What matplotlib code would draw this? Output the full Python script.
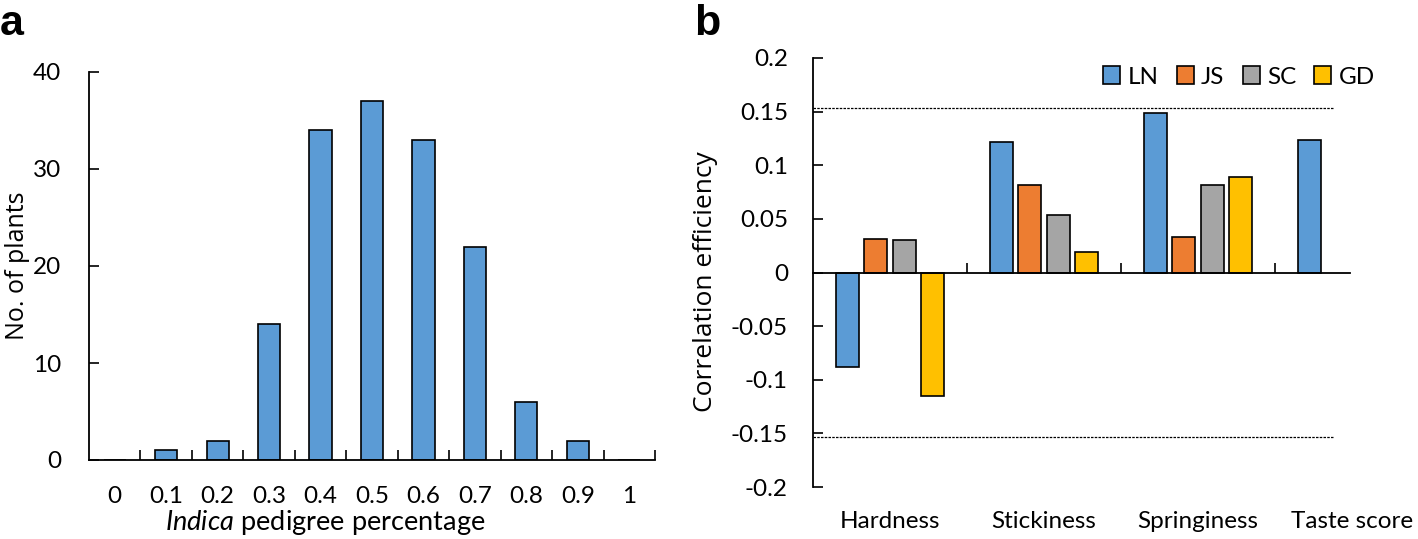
import matplotlib
matplotlib.use('Agg')
import matplotlib.pyplot as plt
from matplotlib.patches import Patch
import numpy as np

plt.rcParams['font.family'] = ['Lato', 'DejaVu Sans']
plt.rcParams['mathtext.fontset'] = 'custom'
plt.rcParams['mathtext.it'] = 'Lato:italic'
plt.rcParams['mathtext.rm'] = 'Lato'

# panel a data
pedigree = ['0', '0.1', '0.2', '0.3', '0.4', '0.5', '0.6', '0.7', '0.8', '0.9', '1']
n_plants = [0, 1, 2, 14, 34, 37, 33, 22, 6, 2, 0]

# panel b data
traits = ['Hardness', 'Stickiness', 'Springiness', 'Taste score']
regions = ['LN', 'JS', 'SC', 'GD']
corr_LN = [-0.088, 0.122, 0.149, 0.124]
corr_JS = [0.031, 0.082, 0.033, np.nan]
corr_SC = [0.030, 0.054, 0.082, np.nan]
corr_GD = [-0.115, 0.019, 0.089, np.nan]
sig_threshold = 0.153
b_yticks = [0.2, 0.15, 0.1, 0.05, 0, -0.05, -0.1, -0.15, -0.2]
b_yticklabels = ['0.2', '0.15', '0.1', '0.05', '0', '-0.05', '-0.1', '-0.15', '-0.2']

colors = ['#5B9BD5', '#ED7D31', '#A5A5A5', '#FFC000']

W, H = 1418, 539
fig = plt.figure(figsize=(W / 100, H / 100), dpi=100)

fs = 17.5

# ---- panel a
axa = fig.add_axes([89 / W, 1 - 460 / H, 566 / W, 388 / H])
xa = np.arange(len(pedigree))
axa.bar(xa, n_plants, width=0.43, color=colors[0], edgecolor='black', linewidth=1.2)
axa.set_xlim(-0.5, len(pedigree) - 0.5)
axa.set_ylim(0, 40)
axa.set_yticks([0, 10, 20, 30, 40])
axa.set_xticks(xa)
axa.set_xticklabels(pedigree)
axa.set_xticks(np.arange(0.5, len(pedigree), 1), minor=True)
axa.tick_params(axis='x', which='major', length=0, pad=18.5, labelsize=fs)
axa.tick_params(axis='x', which='minor', direction='in', length=7, width=1.2)
axa.tick_params(axis='y', direction='in', length=7, width=1.2, pad=20, labelsize=fs)
for s in ['top', 'right']:
    axa.spines[s].set_visible(False)
for s in ['left', 'bottom']:
    axa.spines[s].set_linewidth(1.3)
axa.set_ylabel('No. of plants', fontsize=18, family='Open Sans')
axa.yaxis.set_label_coords((30 - 89) / 566, 0.5)
axa.set_xlabel(r'$\it{Indica}$ pedigree percentage', fontsize=19.5)
axa.xaxis.set_label_coords((325 - 89) / 566, -(508 - 460) / 388)

# ---- panel b
axb = fig.add_axes([813 / W, 1 - 487 / H, 616 / W, 429 / H])
xb = np.arange(len(traits))
bw = 0.15
step = 0.185
series = [corr_LN, corr_JS, corr_SC, corr_GD]
for i, vals in enumerate(series):
    axb.bar(xb + (i - 1.5) * step, vals, width=bw, color=colors[i],
            edgecolor='black', linewidth=1.2)
axb.set_xlim(-0.5, len(traits) - 0.5)
axb.set_ylim(-0.2, 0.2)
axb.set_yticks(b_yticks)
axb.set_yticklabels(b_yticklabels)
axb.spines['bottom'].set_position(('data', 0))
axb.spines['bottom'].set_bounds(-0.5, 2.99)
for s in ['top', 'right']:
    axb.spines[s].set_visible(False)
for s in ['left', 'bottom']:
    axb.spines[s].set_linewidth(1.3)
axb.set_xticks(xb)
axb.set_xticklabels(traits)
axb.set_xticks(np.arange(0.5, len(traits) - 1, 1), minor=True)
axb.tick_params(axis='x', which='major', length=0, pad=(524 - 273 - 13) * 0.72, labelsize=fs)
axb.tick_params(axis='x', which='minor', direction='in', length=7, width=1.2)
axb.tick_params(axis='y', direction='in', length=7, width=1.2, pad=18, labelsize=fs)
for t in [sig_threshold, -sig_threshold]:
    axb.axhline(t, xmin=0, xmax=(1333 - 813) / 616, color='black',
                linestyle=(0, (2, 1)), linewidth=0.9)
axb.set_ylabel('Correlation efficiency', fontsize=19, family='Open Sans')
axb.yaxis.set_label_coords((718 - 813) / 616, 1 - (282 - 58) / 429)

handles = [Patch(facecolor=c, edgecolor='black', linewidth=1.2) for c in colors]
fig.legend(handles, regions, loc='center', bbox_to_anchor=(1239 / W, 1 - 77 / H),
           ncol=4, frameon=False, fontsize=fs, handlelength=0.7, handleheight=0.75,
           handletextpad=0.3, columnspacing=0.75)

fig.text(0 / W, 1 - 35 / H, 'a', fontsize=31, fontweight='bold',
         family='Liberation Sans', ha='left', va='baseline')
fig.text(694 / W, 1 - 35 / H, 'b', fontsize=31, fontweight='bold',
         family='Liberation Sans', ha='left', va='baseline')

fig.savefig('out.png', dpi=100)
